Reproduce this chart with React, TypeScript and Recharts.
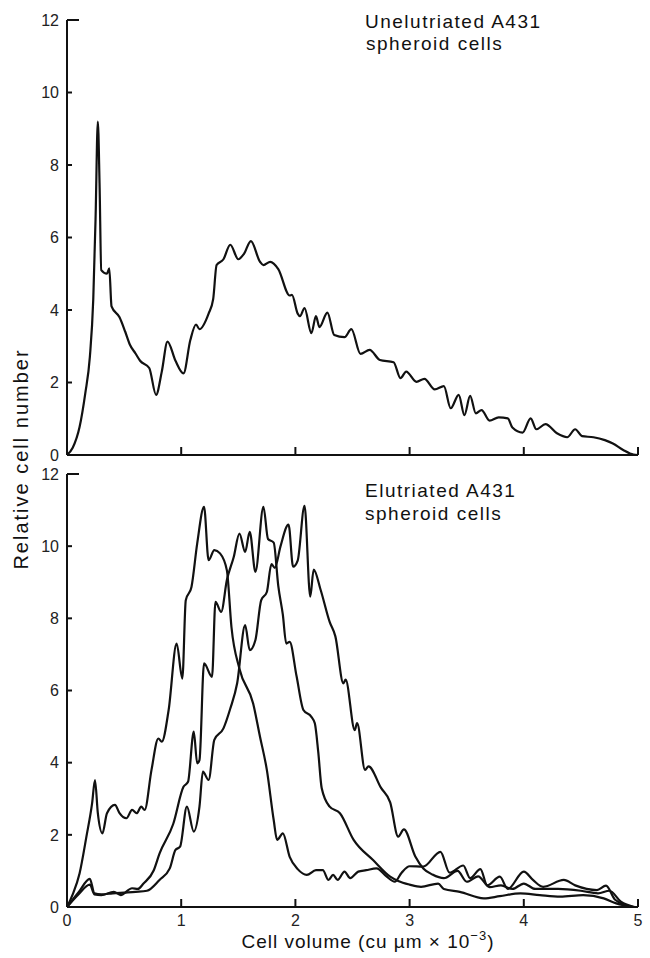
import { Line, LineChart, XAxis, YAxis } from "recharts";

// [cell volume (x1000 cu µm), relative cell number]
const unelutriated: [number, number][] = [
  [0, 0], [0.05, 0.2], [0.11, 0.77], [0.16, 1.7], [0.2, 2.7], [0.23, 4.3],
  [0.25, 6.5], [0.27, 9.2], [0.285, 7.5], [0.3, 5.1], [0.35, 5.0], [0.37, 5.15],
  [0.39, 4.1], [0.46, 3.8], [0.51, 3.4], [0.55, 3.05], [0.6, 2.8], [0.64, 2.6],
  [0.72, 2.4], [0.78, 1.66], [0.83, 2.3], [0.88, 3.13], [0.95, 2.6], [1.02, 2.25],
  [1.08, 3.17], [1.13, 3.6], [1.16, 3.47], [1.24, 3.9], [1.28, 4.3], [1.31, 5.24],
  [1.37, 5.4], [1.43, 5.8], [1.5, 5.4], [1.55, 5.55], [1.61, 5.9], [1.69, 5.33],
  [1.72, 5.24], [1.78, 5.33], [1.85, 5.13], [1.95, 4.4], [1.97, 4.42], [2.02, 3.9],
  [2.04, 3.83], [2.08, 4.05], [2.14, 3.36], [2.18, 3.83], [2.21, 3.53], [2.28, 3.93],
  [2.34, 3.31], [2.43, 3.25], [2.49, 3.47], [2.57, 2.79], [2.65, 2.9], [2.74, 2.62],
  [2.86, 2.56], [2.92, 2.12], [2.97, 2.3], [3.06, 2.02], [3.13, 2.1], [3.22, 1.81],
  [3.3, 1.9], [3.36, 1.29], [3.43, 1.66], [3.48, 1.1], [3.53, 1.63], [3.58, 1.15],
  [3.63, 1.24], [3.7, 0.95], [3.78, 1.04], [3.86, 1.01], [3.9, 0.76], [3.99, 0.62],
  [4.06, 1.01], [4.11, 0.71], [4.19, 0.85], [4.29, 0.6], [4.38, 0.49], [4.45, 0.71],
  [4.51, 0.52], [4.61, 0.49], [4.71, 0.41], [4.78, 0.32], [4.87, 0.14], [4.96, 0.01],
  [5.0, 0],
];

const fractionSmall: [number, number][] = [
  [0, 0], [0.05, 0.35], [0.11, 0.93], [0.17, 1.95], [0.22, 2.88], [0.245, 3.52],
  [0.27, 2.6], [0.31, 2.04], [0.35, 2.6], [0.42, 2.83], [0.46, 2.6], [0.52, 2.46],
  [0.57, 2.69], [0.61, 2.6], [0.65, 2.78], [0.68, 2.69], [0.74, 3.8], [0.8, 4.67],
  [0.83, 4.58], [0.89, 5.46], [0.96, 7.3], [1.01, 6.33], [1.04, 8.5], [1.09, 8.87],
  [1.14, 10.07], [1.2, 11.09], [1.24, 9.61], [1.29, 9.89], [1.34, 9.8], [1.4, 9.33],
  [1.44, 7.76], [1.51, 6.6], [1.63, 5.64], [1.69, 4.72], [1.75, 3.8], [1.81, 2.41],
  [1.84, 1.86], [1.89, 2.04], [1.95, 1.39], [2.02, 1.05], [2.1, 0.89], [2.18, 1.02],
  [2.24, 1.02], [2.29, 0.75], [2.33, 0.89], [2.37, 0.75], [2.43, 0.98], [2.48, 0.8],
  [2.55, 0.98], [2.62, 1.02], [2.71, 1.07], [2.8, 0.84], [2.87, 0.7], [2.93, 0.95],
  [3.0, 1.13], [3.12, 1.12], [3.27, 1.53], [3.35, 0.95], [3.47, 1.15], [3.53, 0.8],
  [3.62, 1.05], [3.68, 0.6], [3.79, 0.84], [3.86, 0.5], [4.0, 0.98], [4.08, 0.75],
  [4.17, 0.56], [4.35, 0.75], [4.45, 0.6], [4.64, 0.47], [4.72, 0.59], [4.8, 0.2],
  [4.95, 0],
];

const fractionMedium: [number, number][] = [
  [0, 0], [0.1, 0.35], [0.2, 0.62], [0.24, 0.35], [0.3, 0.33], [0.41, 0.42],
  [0.47, 0.33], [0.57, 0.52], [0.62, 0.5], [0.67, 0.65], [0.76, 1.02], [0.81, 1.48],
  [0.93, 2.3], [1.02, 3.33], [1.06, 3.47], [1.11, 4.86], [1.14, 3.98], [1.16, 4.07],
  [1.2, 6.75], [1.27, 6.38], [1.3, 8.46], [1.35, 8.18], [1.4, 9.06], [1.46, 9.7],
  [1.51, 10.35], [1.56, 9.84], [1.6, 10.4], [1.65, 9.29], [1.72, 11.09], [1.76, 10.2],
  [1.81, 10.1], [1.85, 8.9], [1.89, 8.1], [1.92, 7.3], [1.95, 7.35], [2.01, 6.4],
  [2.07, 5.46], [2.14, 5.27], [2.17, 5.09], [2.2, 4.3], [2.23, 3.3], [2.3, 2.78],
  [2.39, 2.6], [2.51, 1.86], [2.68, 1.3], [2.83, 0.84], [2.9, 0.72], [3.0, 0.62],
  [3.1, 0.56], [3.25, 0.65], [3.3, 0.5], [3.44, 0.42], [3.65, 0.24], [3.79, 0.3],
  [3.97, 0.38], [4.14, 0.33], [4.32, 0.29], [4.52, 0.33], [4.7, 0.24], [4.81, 0.1],
  [4.96, 0],
];

const fractionLarge: [number, number][] = [
  [0, 0], [0.1, 0.4], [0.2, 0.78], [0.24, 0.38], [0.3, 0.35], [0.4, 0.38],
  [0.5, 0.4], [0.6, 0.42], [0.7, 0.45], [0.81, 0.75], [0.9, 1.07], [0.95, 1.58],
  [0.99, 1.67], [1.05, 2.78], [1.11, 2.09], [1.16, 2.78], [1.19, 3.75], [1.24, 3.52],
  [1.29, 4.63], [1.37, 4.95], [1.43, 5.5], [1.49, 6.2], [1.56, 7.81], [1.6, 7.12],
  [1.65, 7.4], [1.7, 8.5], [1.75, 8.73], [1.79, 9.5], [1.82, 9.4], [1.87, 10.0],
  [1.94, 10.6], [1.98, 9.43], [2.02, 9.6], [2.08, 11.12], [2.13, 8.6], [2.16, 9.35],
  [2.22, 8.8], [2.3, 7.9], [2.35, 7.5], [2.42, 6.2], [2.44, 6.3], [2.52, 4.9],
  [2.54, 5.1], [2.61, 3.8], [2.64, 3.9], [2.75, 3.3], [2.83, 2.9], [2.9, 1.95],
  [2.95, 2.15], [3.05, 1.4], [3.12, 1.07], [3.2, 0.9], [3.3, 0.8], [3.42, 1.0],
  [3.5, 0.7], [3.6, 0.85], [3.7, 0.55], [3.8, 0.6], [3.9, 0.5], [4.0, 0.65],
  [4.1, 0.5], [4.3, 0.5], [4.5, 0.45], [4.65, 0.38], [4.75, 0.45], [4.85, 0.15],
  [4.97, 0],
];

const xTicks = [0, 1, 2, 3, 4, 5];
const yTicks = [0, 2, 4, 6, 8, 10, 12];

const FONT = "'Liberation Sans', Arial, Helvetica, sans-serif";
const INK = "#111";

const toPoints = (rows: [number, number][]) => rows.map(([v, n]) => ({ v, n }));

function YTick({ x, y, payload }: any) {
  const len = payload.value === 12 ? 12 : 5;
  return (
    <g>
      <line x1={x} y1={y} x2={x + len} y2={y} stroke={INK} strokeWidth={2} />
      <text
        x={x - 8}
        y={y}
        dy="0.36em"
        textAnchor="end"
        fontFamily={FONT}
        fontSize={16}
        fill="#222"
      >
        {payload.value}
      </text>
    </g>
  );
}

function XTick({ x, y, payload, showLabel }: any) {
  return (
    <g>
      {payload.value !== 0 && (
        <line x1={x} y1={y} x2={x} y2={y - 8} stroke={INK} strokeWidth={2} />
      )}
      {showLabel && (
        <text
          x={x}
          y={y + 19}
          textAnchor="middle"
          fontFamily={FONT}
          fontSize={16}
          fill="#222"
        >
          {payload.value}
        </text>
      )}
    </g>
  );
}

function Panel({
  height,
  top,
  xHeight,
  series,
  showXLabels,
}: {
  height: number;
  top: number;
  xHeight: number;
  series: [number, number][][];
  showXLabels: boolean;
}) {
  return (
    <LineChart
      width={650}
      height={height}
      margin={{ top, right: 12, bottom: 0, left: 0 }}
    >
      <XAxis
        type="number"
        dataKey="v"
        domain={[0, 5]}
        ticks={xTicks}
        interval={0}
        height={xHeight}
        tickSize={0}
        tickMargin={0}
        tickLine={false}
        axisLine={{ stroke: INK, strokeWidth: 2 }}
        tick={<XTick showLabel={showXLabels} />}
      />
      <YAxis
        type="number"
        domain={[0, 12]}
        ticks={yTicks}
        interval={0}
        width={67}
        tickSize={0}
        tickMargin={0}
        tickLine={false}
        axisLine={{ stroke: INK, strokeWidth: 2 }}
        tick={<YTick />}
      />
      {series.map((rows, i) => (
        <Line
          key={i}
          data={toPoints(rows)}
          dataKey="n"
          type="monotone"
          stroke={INK}
          strokeWidth={2.2}
          dot={false}
          activeDot={false}
          isAnimationActive={false}
        />
      ))}
    </LineChart>
  );
}

export default function App() {
  return (
    <div
      style={{
        position: "absolute",
        left: 0,
        top: 0,
        width: 650,
        height: 958,
        background: "#fff",
      }}
    >
      <div style={{ position: "absolute", left: 0, top: 0 }}>
        <Panel
          height={466}
          top={20}
          xHeight={11}
          series={[unelutriated]}
          showXLabels={false}
        />
      </div>
      <div style={{ position: "absolute", left: 0, top: 466 }}>
        <Panel
          height={492}
          top={8}
          xHeight={51}
          series={[fractionSmall, fractionMedium, fractionLarge]}
          showXLabels
        />
      </div>
      <svg
        width={650}
        height={958}
        style={{ position: "absolute", left: 0, top: 0, pointerEvents: "none" }}
        fontFamily={FONT}
        fill="#111"
      >
        <text x={365} y={28} fontSize={19} letterSpacing={1.5}>
          Unelutriated A431
        </text>
        <text x={366} y={50} fontSize={19} letterSpacing={1.5}>
          spheroid cells
        </text>
        <text x={365} y={497} fontSize={19} letterSpacing={1.5}>
          Elutriated A431
        </text>
        <text x={365} y={520} fontSize={19} letterSpacing={1.5}>
          spheroid cells
        </text>
        <text
          x={28}
          y={459}
          fontSize={20}
          letterSpacing={2}
          textAnchor="middle"
          transform="rotate(-90, 28, 459)"
        >
          Relative cell number
        </text>
        <text x={368} y={948} fontSize={19} letterSpacing={1} textAnchor="middle">
          Cell volume (cu µm × 10
          <tspan fontSize={13} dy={-8}>
            −3
          </tspan>
          <tspan dy={8}>)</tspan>
        </text>
      </svg>
    </div>
  );
}
